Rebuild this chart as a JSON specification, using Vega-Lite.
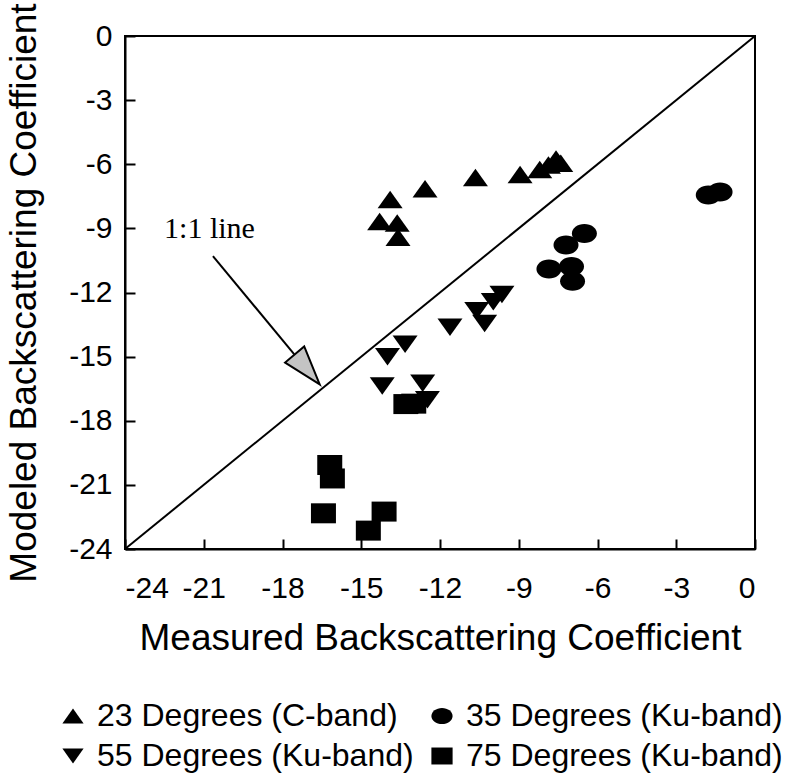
{
  "$schema": "https://vega.github.io/schema/vega-lite/v6.json",
  "width": 630,
  "height": 513,
  "autosize": {"type": "none"},
  "padding": {"left": 125, "top": 36, "right": 46, "bottom": 234},
  "background": "white",
  "config": {
    "view": {"stroke": "black", "strokeWidth": 2},
    "axis": {
      "grid": false,
      "domainColor": "black",
      "domainWidth": 2,
      "tickColor": "black",
      "tickWidth": 2,
      "tickSize": -10,
      "labelFont": "Liberation Sans",
      "labelFontSize": 30,
      "labelColor": "black",
      "labelExpr": "'' + datum.value",
      "titleFont": "Liberation Sans",
      "titleFontSize": 37,
      "titleFontWeight": "normal",
      "titleColor": "black"
    },
    "axisX": {"labelPadding": 34, "titlePadding": 17},
    "axisY": {
      "labelPadding": 23,
      "titleX": -101,
      "titleY": 256.5,
      "titleAngle": -90,
      "titleAlign": "center",
      "titleBaseline": "middle"
    },
    "legend": {
      "labelFont": "Liberation Sans",
      "labelFontSize": 32,
      "labelColor": "black",
      "labelLimit": 600
    }
  },
  "datasets": {
    "points": [
      {"mx": -13.9, "my": -7.65, "group": "23 Degrees (C-band)"},
      {"mx": -12.57, "my": -7.15, "group": "23 Degrees (C-band)"},
      {"mx": -10.65, "my": -6.62, "group": "23 Degrees (C-band)"},
      {"mx": -8.95, "my": -6.48, "group": "23 Degrees (C-band)"},
      {"mx": -8.2, "my": -6.25, "group": "23 Degrees (C-band)"},
      {"mx": -7.87, "my": -6.03, "group": "23 Degrees (C-band)"},
      {"mx": -7.58, "my": -5.75, "group": "23 Degrees (C-band)"},
      {"mx": -7.4, "my": -5.95, "group": "23 Degrees (C-band)"},
      {"mx": -14.3, "my": -8.68, "group": "23 Degrees (C-band)"},
      {"mx": -13.63, "my": -8.75, "group": "23 Degrees (C-band)"},
      {"mx": -13.6, "my": -9.42, "group": "23 Degrees (C-band)"},
      {"mx": -1.78, "my": -7.44, "group": "35 Degrees (Ku-band)"},
      {"mx": -1.33, "my": -7.3, "group": "35 Degrees (Ku-band)"},
      {"mx": -6.5, "my": -9.24, "group": "35 Degrees (Ku-band)"},
      {"mx": -7.2, "my": -9.78, "group": "35 Degrees (Ku-band)"},
      {"mx": -7.85, "my": -10.9, "group": "35 Degrees (Ku-band)"},
      {"mx": -6.99, "my": -10.78, "group": "35 Degrees (Ku-band)"},
      {"mx": -6.95, "my": -11.47, "group": "35 Degrees (Ku-band)"},
      {"mx": -13.33, "my": -14.42, "group": "55 Degrees (Ku-band)"},
      {"mx": -14.0, "my": -15.0, "group": "55 Degrees (Ku-band)"},
      {"mx": -11.62, "my": -13.62, "group": "55 Degrees (Ku-band)"},
      {"mx": -14.2, "my": -16.38, "group": "55 Degrees (Ku-band)"},
      {"mx": -12.66, "my": -16.24, "group": "55 Degrees (Ku-band)"},
      {"mx": -12.48, "my": -17.02, "group": "55 Degrees (Ku-band)"},
      {"mx": -10.6, "my": -12.85, "group": "55 Degrees (Ku-band)"},
      {"mx": -10.3, "my": -13.45, "group": "55 Degrees (Ku-band)"},
      {"mx": -9.64, "my": -12.09, "group": "55 Degrees (Ku-band)"},
      {"mx": -9.97, "my": -12.43, "group": "55 Degrees (Ku-band)"},
      {"mx": -13.3, "my": -17.22, "group": "75 Degrees (Ku-band)"},
      {"mx": -13.0, "my": -17.2, "group": "75 Degrees (Ku-band)"},
      {"mx": -16.2, "my": -20.07, "group": "75 Degrees (Ku-band)"},
      {"mx": -16.1, "my": -20.7, "group": "75 Degrees (Ku-band)"},
      {"mx": -16.44, "my": -22.33, "group": "75 Degrees (Ku-band)"},
      {"mx": -14.13, "my": -22.25, "group": "75 Degrees (Ku-band)"},
      {"mx": -14.73, "my": -23.14, "group": "75 Degrees (Ku-band)"}
    ],
    "diag": [{"mx": -24, "my": -24}, {"mx": 0, "my": 0}],
    "arrow": [{"mx": -20.65, "my": -10.3, "mx2": -17.55, "my2": -14.89}],
    "head": [{"mx": -17.06, "my": -15.6}],
    "label": [{"mx": -20.78, "my": -9.02, "txt": "1:1 line"}]
  },
  "encoding": {
    "x": {
      "field": "mx",
      "type": "quantitative",
      "title": "Measured Backscattering Coefficient",
      "scale": {"domain": [-24, 0], "nice": false, "zero": false},
      "axis": {"values": [-24, -21, -18, -15, -12, -9, -6, -3, 0]}
    },
    "y": {
      "field": "my",
      "type": "quantitative",
      "title": "Modeled Backscattering Coefficient",
      "scale": {"domain": [-24, 0], "nice": false, "zero": false},
      "axis": {"values": [-24, -21, -18, -15, -12, -9, -6, -3, 0]}
    }
  },
  "layer": [
    {
      "data": {"name": "diag"},
      "mark": {"type": "line", "color": "black", "strokeWidth": 2}
    },
    {
      "data": {"name": "arrow"},
      "mark": {"type": "rule", "color": "black", "strokeWidth": 2},
      "encoding": {"x2": {"field": "mx2"}, "y2": {"field": "my2"}}
    },
    {
      "data": {"name": "head"},
      "mark": {
        "type": "point",
        "shape": "M0,-1L0.64,1L-0.64,1Z",
        "size": 1521,
        "angle": 140,
        "filled": true,
        "fill": "#c4c4c4",
        "stroke": "black",
        "strokeWidth": 2,
        "opacity": 1
      }
    },
    {
      "data": {"name": "label"},
      "mark": {
        "type": "text",
        "font": "Liberation Serif",
        "fontSize": 30,
        "color": "black",
        "align": "center",
        "baseline": "middle"
      },
      "encoding": {"text": {"field": "txt"}}
    },
    {
      "data": {"name": "points"},
      "mark": {"type": "point", "filled": true, "color": "black", "opacity": 1, "size": 625, "strokeWidth": 0},
      "encoding": {
        "shape": {
          "field": "group",
          "type": "nominal",
          "scale": {
            "domain": ["23 Degrees (C-band)", "35 Degrees (Ku-band)", "55 Degrees (Ku-band)", "75 Degrees (Ku-band)"],
            "range": [
              "M0,-0.7L1,0.7L-1,0.7Z",
              "M-1,0A1,0.76,0,1,0,1,0A1,0.76,0,1,0,-1,0Z",
              "M0,0.7L1,-0.7L-1,-0.7Z",
              "M-1,-0.8L1,-0.8L1,0.8L-1,0.8Z"
            ]
          },
          "legend": {
            "title": null,
            "orient": "none",
            "legendX": -68,
            "legendY": 664,
            "columns": 2,
            "direction": "horizontal",
            "columnPadding": 12,
            "rowPadding": 8,
            "symbolSize": 450,
            "symbolFillColor": "black",
            "symbolStrokeColor": "black",
            "symbolStrokeWidth": 0,
            "labelOffset": 8
          }
        }
      }
    }
  ]
}
